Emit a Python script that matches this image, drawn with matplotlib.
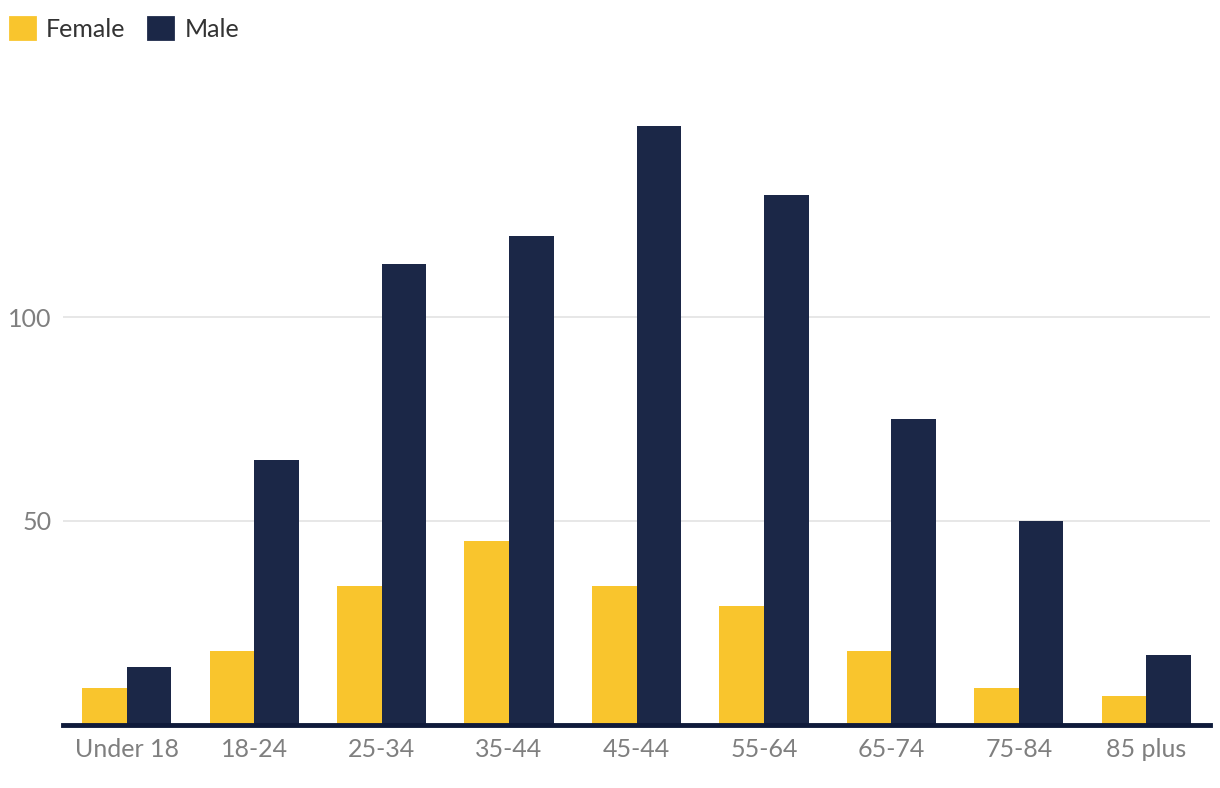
import matplotlib
matplotlib.use("Agg")
import matplotlib.pyplot as plt
from matplotlib.patches import Patch
import numpy as np

plt.rcParams["font.family"] = ["Lato", "DejaVu Sans"]

categorias = ["Under 18", "18-24", "25-34", "35-44", "45-44", "55-64", "65-74", "75-84", "85 plus"]
female = [9, 18, 34, 45, 34, 29, 18, 9, 7]
male = [14, 65, 113, 120, 147, 130, 75, 50, 17]
yticks = [50, 100]

color_f = "#F9C52D"
color_m = "#1B2747"
gris = "#7F7F7F"

W, H = 1220, 788
fig = plt.figure(figsize=(W / 100, H / 100), dpi=100)
ax = fig.add_axes([63 / W, (H - 724.5) / H, (1210 - 63) / W, (724.5 - 113.5) / H])

x = np.arange(len(categorias))
ancho = 0.35
ax.bar(x - ancho / 2, female, ancho, color=color_f, zorder=3)
ax.bar(x + ancho / 2, male, ancho, color=color_m, zorder=3)

ax.set_xlim(-0.5, len(categorias) - 0.5)
ax.set_ylim(0, 150)
ax.set_yticks(yticks)
ax.set_xticks(x)
ax.set_xticklabels(categorias)
ax.tick_params(axis="both", length=0, labelsize=18, labelcolor=gris)
ax.tick_params(axis="x", pad=10)
ax.tick_params(axis="y", pad=8.5)
ax.grid(axis="y", color="#E3E3E3", linewidth=1.2, zorder=0)

for s in ["top", "right", "left"]:
    ax.spines[s].set_visible(False)
ax.spines["bottom"].set_color("#0F1A3A")
ax.spines["bottom"].set_linewidth(3.5)
ax.spines["bottom"].set_zorder(4)

handles = [
    Patch(facecolor=color_f, edgecolor=color_f, linewidth=2, joinstyle="round", label="Female"),
    Patch(facecolor=color_m, edgecolor=color_m, linewidth=2, joinstyle="round", label="Male"),
]
fig.legend(
    handles=handles,
    loc="upper left",
    bbox_to_anchor=(0.0, 1 - 7 / H),
    ncol=2,
    frameon=False,
    fontsize=18,
    handlelength=1.0,
    handleheight=1.0,
    handletextpad=0.45,
    columnspacing=0.9,
    labelcolor="#333333",
    borderaxespad=0.0,
)

fig.savefig("out.png", dpi=100)
